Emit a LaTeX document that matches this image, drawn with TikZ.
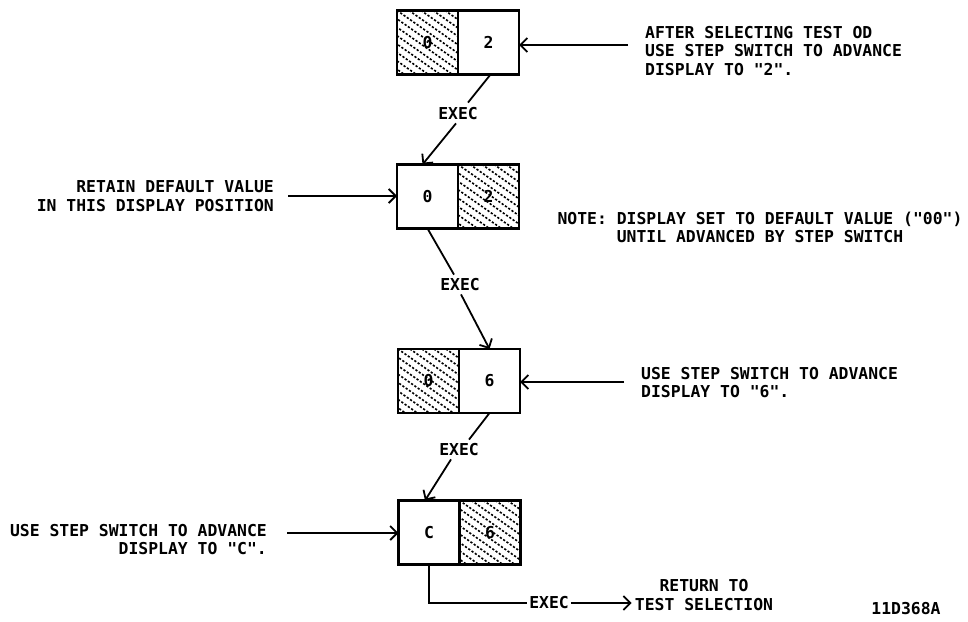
\documentclass[tikz,border=0pt]{standalone}
\usepackage{fontspec}
\setmonofont{DejaVu Sans Mono}
\usetikzlibrary{arrows.meta,calc}
\newcommand\hatchbox[1]{%
  \begin{scope}
    \clip (#1.south west) rectangle (#1.north east);
    \foreach \k in {-9,...,6} \draw[hatchline] ([xshift=\k*12pt]#1.north west) -- ++(110,77);
  \end{scope}}
\begin{document}
\begin{tikzpicture}[x=1pt,y=-1pt,
  every node/.style={font=\ttfamily\bfseries\fontsize{16.4}{18.5}\selectfont},
  disp/.style={draw,line width=2.6pt,minimum width=61pt,minimum height=64pt,inner sep=0pt,outer sep=0pt},
  lbl/.style={inner sep=2pt},
  txt/.style={inner sep=3pt},
  conn/.style={line width=1.8pt},
  arr/.style={line width=1.8pt,-{Straight Barb[length=7pt,width=14pt]}},
  hatchline/.style={line width=1.6pt,dash pattern=on 2.2pt off 1.8pt}]
\useasboundingbox (0,0) rectangle (968,621);

% display boxes
\node[disp] (b1l) at (427.5,42.5) {0};
\node[disp] (b1r) at (488.5,42.5) {2};
\node[disp] (b2l) at (427.5,196.5) {0};
\node[disp] (b2r) at (488.5,196.5) {2};
\node[disp] (b3l) at (428.5,381) {0};
\node[disp] (b3r) at (489.5,381) {6};
\node[disp] (b4l) at (429,532.5) {C};
\node[disp] (b4r) at (490,532.5) {6};
\hatchbox{b1l}
\hatchbox{b2r}
\hatchbox{b3l}
\hatchbox{b4r}

% EXEC labels
\node[lbl] (e1) at (458,114) {EXEC};
\node[lbl] (e2) at (460,285) {EXEC};
\node[lbl] (e3) at (459,450) {EXEC};
\node[lbl] (e4) at (549,603) {EXEC};

% texts (anchor base = baseline of last line)
\node[txt,anchor=base west,align=left] (t1) at (642,75)
  {AFTER SELECTING TEST OD\\USE STEP SWITCH TO ADVANCE\\DISPLAY TO "2".};
\node[txt,anchor=base east,align=right] (t2) at (277,211)
  {RETAIN DEFAULT VALUE\\IN THIS DISPLAY POSITION};
\node[txt,anchor=base,align=center] (t3) at (760,242.5)
  {NOTE: DISPLAY SET TO DEFAULT VALUE ("00")\\UNTIL ADVANCED BY STEP SWITCH};
\node[txt,anchor=base west,align=left] (t4) at (638,397.5)
  {USE STEP SWITCH TO ADVANCE\\DISPLAY TO "6".};
\node[txt,anchor=base east,align=right] (t5) at (270,554.5)
  {USE STEP SWITCH TO ADVANCE\\DISPLAY TO "C".};
\node[txt,anchor=base,align=center] (t6) at (704,610)
  {RETURN TO\\TEST SELECTION};
\node[txt] (id) at (906,609) {11D368A};

% flow connectors
\draw[conn] ([xshift=2pt]b1r.south) -- ([xshift=10pt,yshift=3pt]e1.north);
\draw[arr] ([xshift=-2pt,yshift=-1pt]e1.south) -- ([xshift=-5pt]b2l.north);
\draw[conn] (b2l.south) -- ([xshift=-6pt,yshift=2pt]e2.north);
\draw[arr] ([xshift=1pt,yshift=-1pt]e2.south) -- (b3r.north);
\draw[conn] (b3r.south) -- ([xshift=10pt,yshift=2pt]e3.north);
\draw[arr] ([xshift=-8pt,yshift=-1pt]e3.south) -- ([xshift=-4pt]b4l.north);
\draw[conn] (b4l.south) |- (e4.west);
\draw[arr] (e4.east) -- (e4.east -| t6.west);

% side arrows
\coordinate (s1) at (628,45);
\coordinate (s2) at (288,196);
\coordinate (s3) at (624,382);
\coordinate (s4) at (287,533);
\draw[arr] (s1) -- (s1 -| b1r.east);
\draw[arr] (s2) -- (s2 -| b2l.west);
\draw[arr] (s3) -- (s3 -| b3r.east);
\draw[arr] (s4) -- (s4 -| b4l.west);
\end{tikzpicture}
\end{document}
